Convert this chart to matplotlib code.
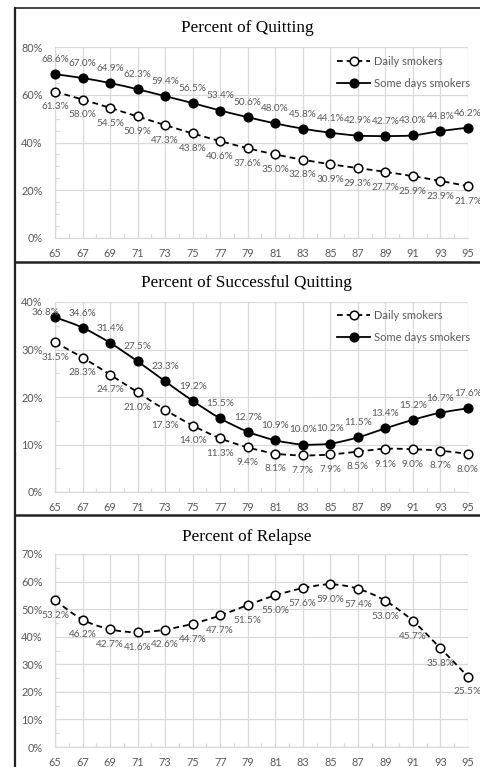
import numpy as np
import matplotlib
matplotlib.use("Agg")
import matplotlib.pyplot as plt
from matplotlib.path import Path
from matplotlib.patches import PathPatch
from matplotlib.lines import Line2D
from matplotlib.ticker import MultipleLocator, FuncFormatter, FixedLocator

ages = [65, 67, 69, 71, 73, 75, 77, 79, 81, 83, 85, 87, 89, 91, 93, 95]
quit_daily = [61.3, 58.0, 54.5, 50.9, 47.3, 43.8, 40.6, 37.6, 35.0, 32.8, 30.9, 29.3, 27.7, 25.9, 23.9, 21.7]
quit_some = [68.6, 67.0, 64.9, 62.3, 59.4, 56.5, 53.4, 50.6, 48.0, 45.8, 44.1, 42.9, 42.7, 43.0, 44.8, 46.2]
succ_daily = [31.5, 28.3, 24.7, 21.0, 17.3, 14.0, 11.3, 9.4, 8.1, 7.7, 7.9, 8.5, 9.1, 9.0, 8.7, 8.0]
succ_some = [36.8, 34.6, 31.4, 27.5, 23.3, 19.2, 15.5, 12.7, 10.9, 10.0, 10.2, 11.5, 13.4, 15.2, 16.7, 17.6]
relapse = [53.2, 46.2, 42.7, 41.6, 42.6, 44.7, 47.7, 51.5, 55.0, 57.6, 59.0, 57.4, 53.0, 45.7, 35.8, 25.5]

titles = ["Percent of Quitting", "Percent of Successful Quitting", "Percent of Relapse"]
series_names = ["Daily smokers", "Some days smokers"]

W, H = 481, 767
fig = plt.figure(figsize=(W / 100, H / 100), dpi=100)

GRID = "#d9d9d9"
TXT = "#595959"
TICKFONT = ["Lato", "DejaVu Sans"]


def fx(px):
    return px / W


def fy(py):
    return 1 - py / H


def smooth_path(x, y):
    x = np.asarray(x, float)
    y = np.asarray(y, float)
    n = len(x)
    verts = [(x[0], y[0])]
    codes = [Path.MOVETO]
    for i in range(n - 1):
        p0 = (x[max(i - 1, 0)], y[max(i - 1, 0)])
        p1 = (x[i], y[i])
        p2 = (x[i + 1], y[i + 1])
        p3 = (x[min(i + 2, n - 1)], y[min(i + 2, n - 1)])
        c1 = (p1[0] + (p2[0] - p0[0]) / 6, p1[1] + (p2[1] - p0[1]) / 6)
        c2 = (p2[0] - (p3[0] - p1[0]) / 6, p2[1] - (p3[1] - p1[1]) / 6)
        verts += [c1, c2, p2]
        codes += [Path.CURVE4] * 3
    return Path(verts, codes)


def draw_series(ax, y, dashed, filled, label_pos, special=None):
    special = special or {}
    ls = (0, (3.2, 2.2)) if dashed else "-"
    patch = PathPatch(smooth_path(ages, y), fill=False, edgecolor="black",
                      lw=1.3, linestyle=ls, zorder=3, clip_on=False)
    ax.add_patch(patch)
    ax.plot(ages, y, linestyle="none", marker="o", ms=6.2,
            mfc="black" if filled else "white", mec="black", mew=1.1,
            zorder=4, clip_on=False)
    for i, (xa, ya) in enumerate(zip(ages, y)):
        dx, dy = special.get(i, (0, 10.5 if label_pos == "above" else -11))
        ax.annotate(f"{ya:.1f}%", (xa, ya), xytext=(dx, dy), textcoords="offset points",
                    ha="center", va="center", fontsize=7.2, color=TXT,
                    family=TICKFONT, zorder=5, annotation_clip=False)


def setup_axes(top, bottom, ymax, major, minor):
    ax = fig.add_axes([fx(55), fy(bottom), fx(468) - fx(55), fy(top) - fy(bottom)])
    ax.set_xlim(65, 95)
    ax.set_ylim(0, ymax)
    ax.xaxis.set_major_locator(FixedLocator(ages))
    ax.xaxis.set_minor_locator(FixedLocator([a + 1 for a in ages[:-1]]))
    ax.yaxis.set_major_locator(MultipleLocator(major))
    ax.yaxis.set_minor_locator(MultipleLocator(minor))
    ax.yaxis.set_major_formatter(FuncFormatter(lambda v, p: f"{v:.0f}%"))
    ax.grid(True, which="major", color=GRID, lw=0.9, zorder=0)
    for s in ["top", "right"]:
        ax.spines[s].set_visible(False)
    for s in ["left", "bottom"]:
        ax.spines[s].set_color(GRID)
        ax.spines[s].set_linewidth(0.9)
    ax.tick_params(which="major", length=0, labelsize=7.8, labelcolor=TXT)
    ax.tick_params(axis="x", which="major", pad=7)
    ax.tick_params(axis="y", which="major", pad=9)
    ax.tick_params(which="minor", direction="in", length=3, color=GRID, width=0.9)
    for lab in ax.get_xticklabels() + ax.get_yticklabels():
        lab.set_family(TICKFONT)
    ax.set_facecolor("white")
    return ax


def add_legend(ax, y1):
    handles = [
        Line2D([], [], color="black", lw=1.3, linestyle=(0, (3.2, 2.2)), marker="o",
               ms=6.2, mfc="white", mec="black", mew=1.1),
        Line2D([], [], color="black", lw=1.3, linestyle="-", marker="o",
               ms=6.2, mfc="black", mec="black", mew=1.1),
    ]
    leg = ax.legend(handles, series_names, loc="upper left",
                    bbox_to_anchor=(fx(337), fy(y1 - 6)), bbox_transform=fig.transFigure,
                    frameon=False, fontsize=8.0, handlelength=3.0, handletextpad=0.35,
                    labelspacing=1.0, borderpad=0, borderaxespad=0)
    for t in leg.get_texts():
        t.set_color(TXT)
        t.set_family(TICKFONT)


# Panel 1
ax1 = setup_axes(47, 238, 80, 20, 5)
draw_series(ax1, quit_daily, True, False, "below")
draw_series(ax1, quit_some, False, True, "above")
add_legend(ax1, 62)

# Panel 2
ax2 = setup_axes(302, 492, 40, 10, 5)
draw_series(ax2, succ_daily, True, False, "below")
draw_series(ax2, succ_some, False, True, "above", special={0: (-7, 3.5)})
add_legend(ax2, 316)

# Panel 3
ax3 = setup_axes(554, 747, 70, 10, 5)
draw_series(ax3, relapse, True, False, "below")

for t, py in zip(titles, [28, 283, 537]):
    fig.text(fx(247), fy(py), t, ha="center", va="center", fontsize=12.4,
             family=["Liberation Serif", "DejaVu Serif"], color="black")

# Panel frames
fig.add_artist(Line2D([fx(15), fx(15)], [fy(8), fy(767)], color="#222222", lw=1.6))
fig.add_artist(Line2D([fx(15), fx(481)], [fy(8), fy(8)], color="#222222", lw=1.2))
for py in [262, 515]:
    fig.add_artist(Line2D([fx(15), fx(481)], [fy(py), fy(py)], color="#222222", lw=1.8))

fig.savefig("out.png", dpi=100, facecolor="white")
